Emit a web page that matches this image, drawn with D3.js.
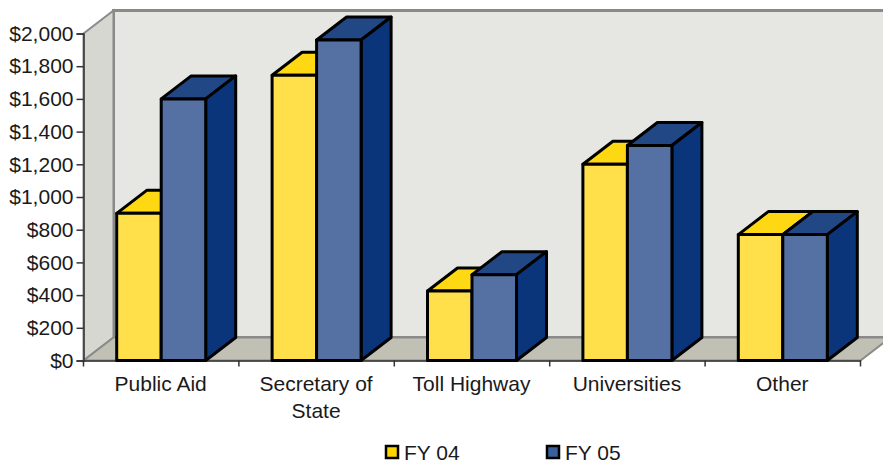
<!DOCTYPE html>
<html>
<head>
<meta charset="utf-8">
<script src="https://cdnjs.cloudflare.com/ajax/libs/d3/7.8.5/d3.min.js"></script>
<style>
    html, body { margin: 0; padding: 0; background: #fff; }
    svg { display: block; }
    text { font-family: "Liberation Sans", Arial, sans-serif; font-size: 21px; fill: #1a1a1a; }
    .tick text { font-size: 21px; }
</style>
</head>
<body>
<svg id="chart" width="883" height="461"></svg>
<script>
var categories = ["Public Aid", "Secretary of State", "Toll Highway", "Universities", "Other"];
var seriesNames = ["FY 04", "FY 05"];
var fy04 = [900, 1745, 425, 1200, 770];
var fy05 = [1600, 1960, 525, 1315, 770];
var yTicks = [0, 200, 400, 600, 800, 1000, 1200, 1400, 1600, 1800, 2000];

var colors = {
    "FY 04": { front: "#ffe04b", top: "#ffd814", side: "#ffd814", key: "#ffd500" },
    "FY 05": { front: "#5571a3", top: "#224785", side: "#0a357a", key: "#3a5f9c" }
};

var svg = d3.select("#chart");

var plotLeft = 83.5, plotRight = 860.5, plotTop = 33.5, plotBottom = 360.5;
var depthX = 30, depthY = -23;

var x = d3.scaleBand().domain(categories).range([plotLeft, plotRight]);
var y = d3.scaleLinear().domain([0, 2000]).range([plotBottom, plotTop]);
var barW = 44.5;

function poly(points) {
    return "M" + points.map(p => p.join(",")).join("L") + "Z";
}

// walls and floor
svg.append("path")
    .attr("d", poly([[plotLeft + depthX, plotTop + depthY], [890, plotTop + depthY], [890, plotBottom + depthY], [plotLeft + depthX, plotBottom + depthY]]))
    .attr("fill", "#e6e7e2")
    .attr("stroke", "#8a8a8a")
    .attr("stroke-width", 3);

svg.append("path")
    .attr("d", poly([[plotLeft, plotTop], [plotLeft + depthX, plotTop + depthY], [plotLeft + depthX, plotBottom + depthY], [plotLeft, plotBottom]]))
    .attr("fill", "#d6d7d0")
    .attr("stroke", "#8a8a8a")
    .attr("stroke-width", 2);

svg.append("path")
    .attr("d", poly([[plotLeft, plotBottom], [plotLeft + depthX, plotBottom + depthY], [890, plotBottom + depthY], [plotRight + depthX, plotBottom + depthY], [plotRight, plotBottom]]))
    .attr("fill", "#c0c1b4")
    .attr("stroke", "#8a8a8a")
    .attr("stroke-width", 2);

// axes
var yAxis = d3.axisLeft(y)
    .tickValues(yTicks)
    .tickSize(7)
    .tickPadding(3)
    .tickFormat(d => "$" + d3.format(",")(d));

svg.append("g")
    .attr("transform", "translate(" + plotLeft + ",0)")
    .call(yAxis)
    .call(g => g.select(".domain").attr("stroke", "#333").attr("stroke-width", 1.5))
    .call(g => g.selectAll(".tick line").attr("stroke", "#333").attr("stroke-width", 1.5))
    .call(g => g.selectAll(".tick text").attr("fill", "#1a1a1a"));

var xAxis = d3.axisBottom(x).tickSize(0).tickFormat("");
var xG = svg.append("g")
    .attr("transform", "translate(0," + plotBottom + ")")
    .call(xAxis);
xG.select(".domain").attr("stroke", "#333").attr("stroke-width", 1.5);

xG.selectAll(".sep")
    .data(categories.map(d => x(d)).concat([plotRight]))
    .enter()
    .append("line")
    .attr("x1", d => d)
    .attr("x2", d => d)
    .attr("y1", 0)
    .attr("y2", 6)
    .attr("stroke", "#333")
    .attr("stroke-width", 1.5);

// bars, left to right so later ones overlap
var bars = [];
categories.forEach((c, i) => {
    bars.push({ cat: c, series: "FY 04", value: fy04[i], offset: -barW });
    bars.push({ cat: c, series: "FY 05", value: fy05[i], offset: 0 });
});

var barG = svg.selectAll(".bar")
    .data(bars)
    .enter()
    .append("g")
    .attr("class", "bar")
    .attr("stroke", "#000")
    .attr("stroke-width", 3)
    .attr("stroke-linejoin", "round");

function xs(d) { return x(d.cat) + x.bandwidth() / 2 + d.offset; }

barG.append("path")
    .attr("d", d => {
        var a = xs(d), b = a + barW, t = y(d.value);
        return poly([[a, t], [a + depthX, t + depthY], [b + depthX, t + depthY], [b, t]]);
    })
    .attr("fill", d => colors[d.series].top);

barG.append("path")
    .attr("d", d => {
        var b = xs(d) + barW, t = y(d.value);
        return poly([[b, t], [b + depthX, t + depthY], [b + depthX, plotBottom + depthY], [b, plotBottom]]);
    })
    .attr("fill", d => colors[d.series].side);

barG.append("rect")
    .attr("x", d => xs(d))
    .attr("y", d => y(d.value))
    .attr("width", barW)
    .attr("height", d => plotBottom - y(d.value))
    .attr("fill", d => colors[d.series].front);

// category labels, wrapped like the original
var labelLines = { "Secretary of State": ["Secretary of", "State"] };

svg.selectAll(".cat")
    .data(categories)
    .enter()
    .append("text")
    .attr("class", "cat")
    .attr("text-anchor", "middle")
    .attr("y", 391)
    .each(function (d) {
        var lines = labelLines[d] || [d];
        d3.select(this).selectAll("tspan")
            .data(lines)
            .enter()
            .append("tspan")
            .attr("x", x(d) + x.bandwidth() / 2 - 0.5)
            .attr("dy", (l, i) => i ? 27 : 0)
            .text(l => l);
    });

// legend
var legendX = d3.scalePoint().domain(seriesNames).range([386, 547]);

var legend = svg.selectAll(".key")
    .data(seriesNames)
    .enter()
    .append("g")
    .attr("class", "key")
    .attr("transform", d => "translate(" + legendX(d) + ",446)");

legend.append("rect")
    .attr("width", 12)
    .attr("height", 12)
    .attr("fill", d => colors[d].key)
    .attr("stroke", "#000")
    .attr("stroke-width", 2.5);

legend.append("text")
    .attr("x", 18)
    .attr("y", 14)
    .text(d => d);
</script>
</body>
</html>
